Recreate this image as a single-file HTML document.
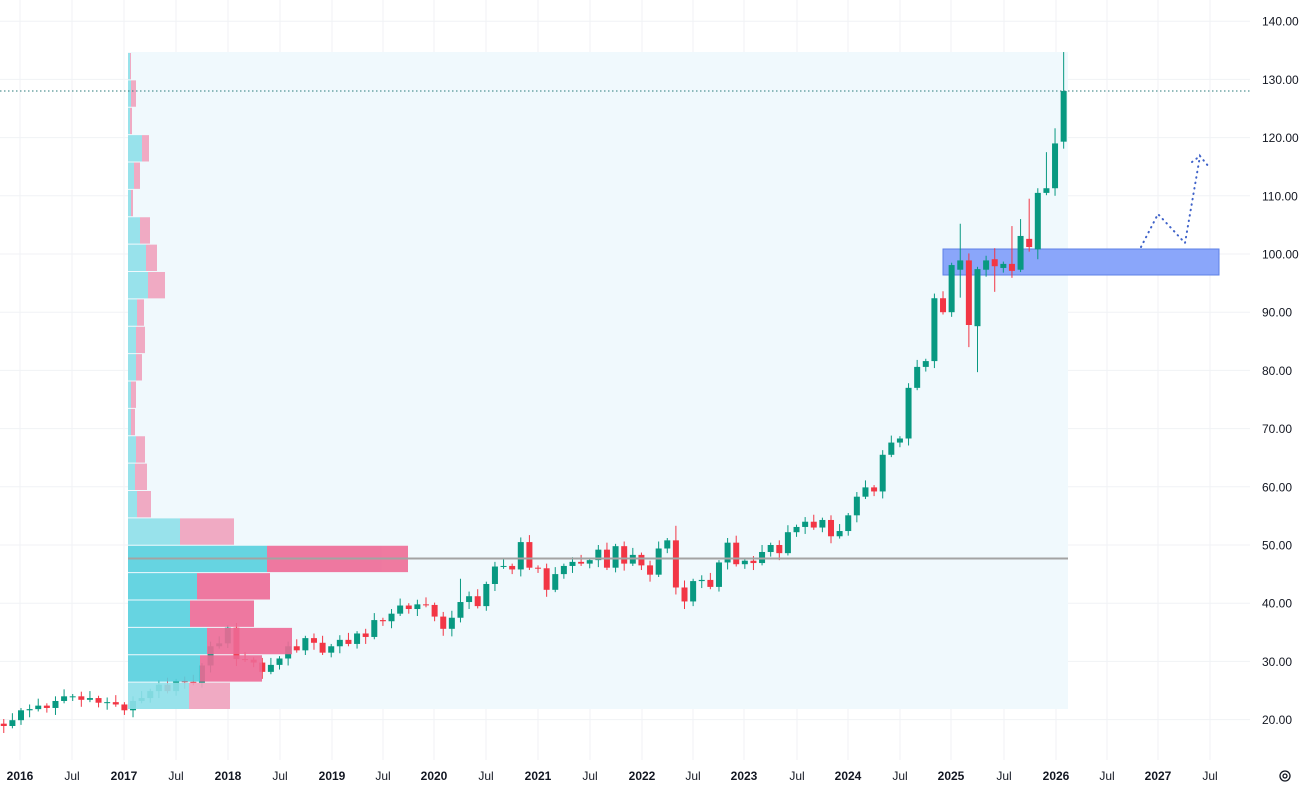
<!DOCTYPE html>
<html><head><meta charset="utf-8"><style>
html,body{margin:0;padding:0;background:#fff;}
svg{display:block;font-family:"Liberation Sans",sans-serif;}
</style></head><body>
<svg id="c" width="1305" height="790" xmlns="http://www.w3.org/2000/svg">
<rect width="1305" height="790" fill="#fff"/>
<g id="grid"></g>
<rect x="128" y="52" width="940" height="657" fill="#f0f9fd"/>
<rect x="943" y="249" width="276" height="26" fill="#8aa6fa" stroke="#5e80e6" stroke-width="1"/>
<g id="candles"></g>
<g id="prof" opacity="0.9"></g>
<line x1="128" y1="558.5" x2="1068" y2="558.5" stroke="#a3a3a3" stroke-width="2"/>
<line x1="0" y1="91" x2="1250" y2="91" stroke="#2a7a7a" stroke-width="1" stroke-dasharray="1.5,2.5"/>
<polyline points="1141,247 1158,214 1185,243 1200,156 1209,167" fill="none" stroke="#3f62c9" stroke-width="2" stroke-dasharray="0.5,5" stroke-linecap="round"/>
<polyline points="1192,162 1200,156" fill="none" stroke="#3f62c9" stroke-width="2" stroke-dasharray="0.5,5" stroke-linecap="round"/>
<g id="labels" font-size="12" fill="#131722"></g>
<g transform="translate(1285,776)" fill="none" stroke="#131722" stroke-width="1.3"><circle r="5"/><circle r="2"/></g>
</svg>
<script>
var NS="http://www.w3.org/2000/svg";
function el(p,t,a,txt){var e=document.createElementNS(NS,t);for(var k in a)e.setAttribute(k,a[k]);if(txt!=null)e.textContent=txt;document.getElementById(p).appendChild(e);return e;}
function Y(v){return 254+(100-v)*5.82;}
for(var v=20;v<=140;v+=10){var y=Y(v);el("grid","line",{x1:0,x2:1250,y1:y,y2:y,stroke:"#f0f2f5"});
 el("labels","text",{x:1262,y:y+4.5},v.toFixed(2));}
var xl=[["2016",20],["Jul",72],["2017",124],["Jul",176],["2018",228],["Jul",280],["2019",332],["Jul",383],["2020",434],["Jul",486],["2021",538],["Jul",590],["2022",642],["Jul",693],["2023",744],["Jul",797],["2024",848],["Jul",900],["2025",951],["Jul",1004],["2026",1056],["Jul",1107],["2027",1158],["Jul",1210]];
xl.forEach(function(a){el("grid","line",{x1:a[1],x2:a[1],y1:0,y2:760,stroke:"#f0f2f5"});
 el("labels","text",{x:a[1],y:780,"text-anchor":"middle","font-weight":a[0]=="Jul"?"normal":"bold"},a[0]);});
var rows=[[189,230,0],[200,262,1],[207,292,1],[190,254,1],[197,270,1],[267,408,1],[180,234,0],[137,151,0],[135,147,0],[136,145,0],[131,135,0],[131,136,0],[136,142,0],[136,145,0],[137,144,0],[148,165,0],[146,157,0],[140,150,0],[131,133,0],[134,140,0],[142,149,0],[130,132,0],[131,136,0],[130,131,0]];
var rh=657/24;
rows.forEach(function(r,i){var yb=709-i*rh,yt=yb-rh+1;
 el("prof","rect",{x:128,y:yt,width:r[0]-128,height:rh-1,fill:r[2]?"#58d0df":"#8fe0ea"});
 el("prof","rect",{x:r[0],y:yt,width:r[1]-r[0],height:rh-1,fill:r[2]?"#ee6b96":"#f0a2bd"});});
var C=[19.3,18.9,19.9,21.6,21.8,22.4,22.0,23.2,24.0,24.0,23.4,23.7,22.9,23.0,22.6,
21.6,23.2,23.7,24.9,26.0,24.9,26.6,26.5,26.3,29.3,32.6,33.1,
35.8,30.4,30.3,29.8,28.2,29.4,30.5,32.6,31.9,34.0,33.2,31.5,
32.6,33.7,33.0,34.8,34.2,37.1,36.9,38.2,39.6,39.0,39.8,39.7,
37.7,35.6,37.5,40.2,41.2,39.5,43.3,46.3,46.4,45.8,50.5,46.1,
46.0,42.3,45.0,46.4,47.1,46.8,47.4,49.2,46.1,49.8,46.8,48.3,
46.5,44.9,49.4,50.8,42.7,40.3,43.8,44.0,42.8,47.0,50.4,46.7,
47.3,46.9,48.8,50.0,48.6,52.2,53.1,54.0,53.0,54.3,51.5,52.4,
55.1,58.3,59.9,59.2,65.5,67.6,68.3,77.0,80.6,81.6,92.4,90.0,
98.1,98.9,87.8,97.4,98.9,97.9,98.3,97.1,103.1,101.2,110.5,111.3,
119.0,128.0];
var O={112:97.3,114:87.6,115:97.3,116:99.1,117:97.6,119:97.3,120:102.6,121:100.8,124:119.3};
var H={112:105.2,116:101,118:104.8,119:106,120:109.5,122:117.5,123:121.6,124:134.7,79:53.3,54:44.2};
var L={112:92.5,113:84,114:79.7,116:93.5,121:99.1,123:110,53:34.3,80:39};
for(var k=1;k<C.length;k++){
 var i=k-3, x=21+i*8.617, o=(O[k]!=null)?O[k]:C[k-1], c=C[k];
 var hi=Math.max(o,c), lo=Math.min(o,c);
 var h=H[k]!=null?H[k]:hi+0.4+(k%3)*0.4, l=L[k]!=null?L[k]:lo-0.4-((k+1)%3)*0.4;
 var col=c>=o?"#089981":"#f23645";
 el("candles","line",{x1:x,x2:x,y1:Y(h),y2:Y(l),stroke:col,"stroke-width":1});
 var bh=Math.max(1,Y(lo)-Y(hi));
 el("candles","rect",{x:x-3,y:Y(hi),width:6,height:bh,fill:col});
}
</script>
</body></html>
